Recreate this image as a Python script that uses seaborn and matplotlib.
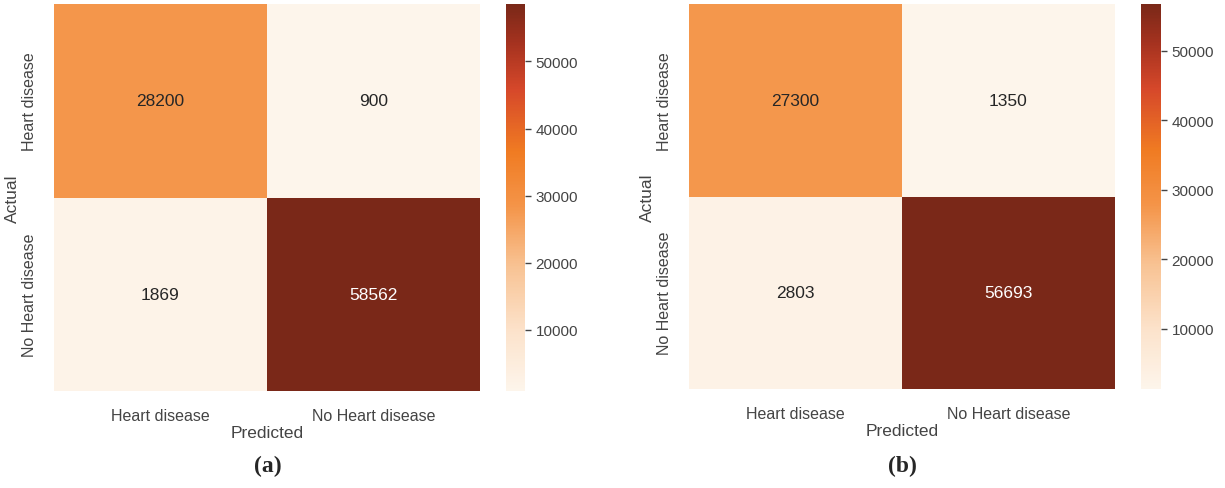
import numpy as np
import pandas as pd
import matplotlib
matplotlib.use("Agg")
import matplotlib.pyplot as plt
from matplotlib.colors import LinearSegmentedColormap
import seaborn as sns

classes = ["Heart disease", "No Heart disease"]
cm_a = [[28200, 900],
        [1869, 58562]]
cm_b = [[27300, 1350],
        [2803, 56693]]
panel_tags = ["(a)", "(b)"]

# warm sequential palette, light cream to deep brown-red
warm = LinearSegmentedColormap.from_list("warm", [
    (0.00, "#fdf5eb"),
    (0.15, "#fce3cc"),
    (0.32, "#f8c394"),
    (0.48, "#f49448"),
    (0.62, "#f07b22"),
    (0.78, "#d6482a"),
    (0.90, "#a5321f"),
    (1.00, "#7a2818"),
])

sns.set_theme(style="white")
plt.rcParams["font.family"] = ["Liberation Sans", "DejaVu Sans"]

W, H = 1225, 489
fig = plt.figure(figsize=(W / 100, H / 100), dpi=100)


def box(l, r, t, b):
    return [l / W, (H - b) / H, (r - l) / W, (b - t) / H]


layout = [
    (box(54, 480, 5, 392), box(506, 525, 5, 392), 268),
    (box(689, 1115, 5, 390), box(1141, 1161, 5, 390), 902),
]

for cm, tag, (hm_box, cb_box, tag_x) in zip([cm_a, cm_b], panel_tags, layout):
    ax = fig.add_axes(hm_box)
    cax = fig.add_axes(cb_box)
    df = pd.DataFrame(cm, index=classes, columns=classes)
    sns.heatmap(df, annot=True, fmt="d", cmap=warm, ax=ax, cbar_ax=cax,
                annot_kws={"fontsize": 12.5})
    ax.set_xlabel("Predicted", fontsize=12.5, color="#444444")
    ax.set_ylabel("Actual", fontsize=12.5, color="#444444")
    ax.tick_params(axis="both", labelsize=11.5, colors="#444444", length=0, pad=12)
    ax.set_yticklabels(ax.get_yticklabels(), rotation=90, va="center")
    ax.xaxis.labelpad = 2
    ax.yaxis.labelpad = 2
    cax.tick_params(labelsize=11, colors="#444444", length=4, width=1, left=False, right=True)
    cax.yaxis.set_ticks_position("right")
    for s in cax.spines.values():
        s.set_visible(False)
    fig.text(tag_x / W, 1 - 466 / H, tag, ha="center", va="center",
             fontsize=17, fontweight="bold", family="Liberation Serif")

fig.savefig("out.png", dpi=100)
